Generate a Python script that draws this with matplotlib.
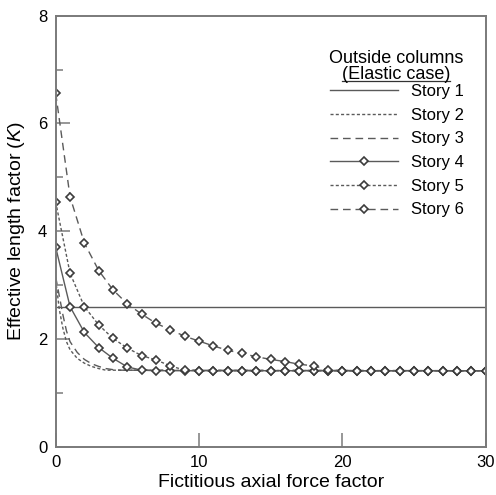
import matplotlib
matplotlib.use("Agg")
import matplotlib.pyplot as plt
from matplotlib.lines import Line2D

plt.rcParams["font.family"] = ["Liberation Sans", "DejaVu Sans"]
plt.rcParams["mathtext.fontset"] = "custom"
plt.rcParams["mathtext.rm"] = "Liberation Sans"
plt.rcParams["mathtext.it"] = "Liberation Sans:italic"

# Fictitious axial force factor for the stories computed at integer steps
x_int = list(range(31))

story1_x = [0, 30]
story1_k = [2.59, 2.59]

story2_x = [0, 0.25, 0.5, 0.75, 1, 1.5, 2, 2.5, 3, 3.5, 30]
story2_k = [3.10, 2.55, 2.20, 1.95, 1.80, 1.64, 1.55, 1.49, 1.45, 1.42, 1.41]

story3_x = [0, 0.25, 0.5, 0.75, 1, 1.5, 2, 2.5, 3, 3.5, 4, 4.5, 30]
story3_k = [3.15, 2.80, 2.45, 2.15, 1.95, 1.75, 1.62, 1.54, 1.49, 1.45, 1.43, 1.42, 1.41]

story4_k = [3.70, 2.60, 2.12, 1.84, 1.64, 1.48, 1.42, 1.41, 1.41, 1.41,
            1.41, 1.41, 1.41, 1.41, 1.41, 1.41, 1.41, 1.41, 1.41, 1.41,
            1.41, 1.41, 1.41, 1.41, 1.41, 1.41, 1.41, 1.41, 1.41, 1.41, 1.41]

story5_k = [4.54, 3.22, 2.60, 2.26, 2.01, 1.83, 1.69, 1.61, 1.50, 1.42,
            1.41, 1.41, 1.41, 1.41, 1.41, 1.41, 1.41, 1.41, 1.41, 1.41,
            1.41, 1.41, 1.41, 1.41, 1.41, 1.41, 1.41, 1.41, 1.41, 1.41, 1.41]

story6_k = [6.56, 4.64, 3.78, 3.27, 2.91, 2.65, 2.46, 2.29, 2.17, 2.05,
            1.96, 1.87, 1.79, 1.73, 1.67, 1.62, 1.58, 1.53, 1.50, 1.43,
            1.41, 1.41, 1.41, 1.41, 1.41, 1.41, 1.41, 1.41, 1.41, 1.41, 1.41]

story_labels = ["Story 1", "Story 2", "Story 3", "Story 4", "Story 5", "Story 6"]

line_color = "#5a5a5a"
edge_color = "#3c3c3c"
spine_color = "#7a7a7a"

fig = plt.figure(figsize=(4.96, 4.95), dpi=100)
ax = fig.add_axes([0.1123, 0.0976, 0.8669, 0.8707])

lw = 1.0
dotted = (0, (2.2, 1.6))
dashed = (0, (5.5, 3.5))
mk = dict(marker="D", markersize=3.8, markerfacecolor="white",
          markeredgecolor=edge_color, markeredgewidth=1.2)

h1, = ax.plot(story1_x, story1_k, color=line_color, lw=lw, linestyle="-")
h2, = ax.plot(story2_x, story2_k, color=line_color, lw=lw, linestyle=dotted)
h3, = ax.plot(story3_x, story3_k, color=line_color, lw=lw, linestyle=dashed)
h4, = ax.plot(x_int, story4_k, color=line_color, lw=lw, linestyle="-", **mk)
h5, = ax.plot(x_int, story5_k, color=line_color, lw=lw, linestyle=dotted, **mk)
h6, = ax.plot(x_int, story6_k, color=line_color, lw=lw, linestyle=dashed, **mk)

ax.set_xlim(0, 30)
ax.set_ylim(0, 8)
ax.set_xticks([0, 10, 20, 30])
ax.set_yticks([0, 2, 4, 6, 8])
ax.set_yticks([1, 3, 5, 7], minor=True)

for side in ["left", "bottom", "top", "right"]:
    ax.spines[side].set_color(spine_color)
    ax.spines[side].set_linewidth(1.4)

ax.tick_params(axis="both", which="major", direction="in", length=10,
               width=1.1, color=spine_color, labelsize=12, pad=6,
               top=False, right=False)
ax.tick_params(axis="y", which="minor", direction="in", length=5,
               width=1.1, color=spine_color, left=True, right=False)
ax.tick_params(axis="x", which="minor", bottom=False, top=False)

ax.set_xlabel("Fictitious axial force factor", fontsize=14, labelpad=3)
ax.set_ylabel("Effective length factor ($K$)", fontsize=14, labelpad=8)

leg = ax.legend([h1, h2, h3, h4, h5, h6], story_labels,
                loc="upper left", bbox_to_anchor=(0.638, 0.8415),
                frameon=False, fontsize=12, handlelength=4.08,
                handletextpad=0.78, labelspacing=0.52, numpoints=1,
                borderaxespad=0, borderpad=0)

ax.text(0.792, 0.900, "Outside columns", transform=ax.transAxes,
        ha="center", va="center", fontsize=13)
t2 = ax.text(0.792, 0.864, "(Elastic case)", transform=ax.transAxes,
             ha="center", va="center", fontsize=13)

# underline the subtitle
fig.canvas.draw()
bb = t2.get_window_extent().transformed(ax.transAxes.inverted())
ax.add_line(Line2D([bb.x0, bb.x1], [bb.y0 + 0.004, bb.y0 + 0.004],
                   transform=ax.transAxes, color="#333333", lw=0.9))

fig.savefig("out.png", dpi=100)
